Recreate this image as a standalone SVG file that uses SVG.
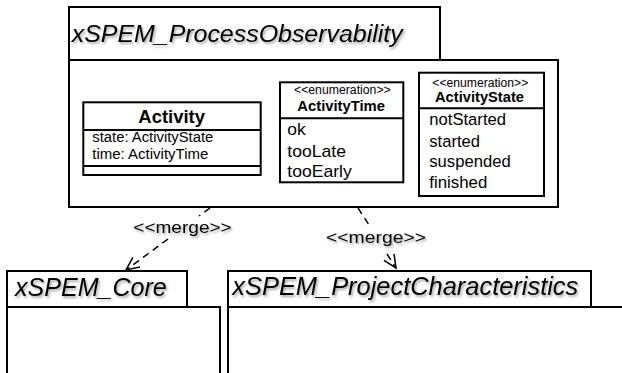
<svg xmlns="http://www.w3.org/2000/svg" width="622" height="373" viewBox="0 0 622 373">
<style>
  .box { fill: #fff; stroke: #000; stroke-width: 2; }
  .div { stroke: #000; stroke-width: 2; fill: none; }
  .pkg { font-family: "Liberation Sans", Arial, sans-serif; font-style: italic; font-size: 24.5px; fill: #000; filter: url(#shadow); }
  .cls { font-family: "Liberation Sans", Arial, sans-serif; font-weight: bold; fill: #000; }
  .txt { font-family: "Liberation Sans", Arial, sans-serif; fill: #000; }
  .lbl { font-family: "Liberation Sans", Arial, sans-serif; font-size: 17px; fill: #000; filter: url(#shadow); }
  .conn { stroke: #000; stroke-width: 1.5; fill: none; stroke-dasharray: 7 5; }
  .end { marker-end: url(#open); }
</style>
<defs>
  <filter id="shadow" x="-10%" y="-30%" width="120%" height="180%">
    <feDropShadow dx="1.5" dy="2" stdDeviation="1" flood-color="#000" flood-opacity="0.35"/>
  </filter>
  <marker id="open" markerUnits="userSpaceOnUse" markerWidth="20" markerHeight="20" refX="0" refY="0" viewBox="-15 -10 20 20" orient="auto">
    <path d="M-13,-6 L0,0 L-13,6" fill="none" stroke="#000" stroke-width="1.5"/>
  </marker>
</defs>
<rect width="622" height="373" fill="#fff"/>

<g id="pkg-process-observability">
  <rect class="box" x="69" y="60" width="489" height="147"/>
  <rect class="box" x="69" y="7" width="371" height="53"/>
  <text class="pkg" x="71.7" y="41.7" textLength="331" lengthAdjust="spacingAndGlyphs">xSPEM_ProcessObservability</text>
</g>

<g id="class-activity">
  <rect class="box" x="83.3" y="102.3" width="177.4" height="72.7"/>
  <line class="div" x1="83.3" y1="130" x2="260.7" y2="130"/>
  <line class="div" x1="83.3" y1="166" x2="260.7" y2="166"/>
  <text class="cls" x="138.3" y="123.3" font-size="18.5" textLength="66.7" lengthAdjust="spacingAndGlyphs">Activity</text>
  <text class="txt" x="92.3" y="141.7" font-size="14" textLength="121" lengthAdjust="spacingAndGlyphs">state: ActivityState</text>
  <text class="txt" x="92.3" y="159" font-size="14" textLength="116" lengthAdjust="spacingAndGlyphs">time: ActivityTime</text>
</g>

<g id="enum-activitytime">
  <rect class="box" x="280" y="82.3" width="123.3" height="100"/>
  <line class="div" x1="280" y1="118.3" x2="403.3" y2="118.3"/>
  <text class="txt" x="294" y="94.3" font-size="12" textLength="96.7" lengthAdjust="spacingAndGlyphs">&lt;&lt;enumeration&gt;&gt;</text>
  <text class="cls" x="297.3" y="111" font-size="14.5" textLength="87.7" lengthAdjust="spacingAndGlyphs">ActivityTime</text>
  <text class="txt" x="287.3" y="135" font-size="17" textLength="18.4" lengthAdjust="spacingAndGlyphs">ok</text>
  <text class="txt" x="287.3" y="156.7" font-size="17" textLength="58.7" lengthAdjust="spacingAndGlyphs">tooLate</text>
  <text class="txt" x="287.3" y="176.7" font-size="17" textLength="64.4" lengthAdjust="spacingAndGlyphs">tooEarly</text>
</g>

<g id="enum-activitystate">
  <rect class="box" x="419" y="72.7" width="125" height="123.3"/>
  <line class="div" x1="419" y1="108.3" x2="544" y2="108.3"/>
  <text class="txt" x="432.3" y="86.7" font-size="12" textLength="96" lengthAdjust="spacingAndGlyphs">&lt;&lt;enumeration&gt;&gt;</text>
  <text class="cls" x="435" y="101.7" font-size="14.5" textLength="89" lengthAdjust="spacingAndGlyphs">ActivityState</text>
  <text class="txt" x="429.3" y="125" font-size="16.7" textLength="76.7" lengthAdjust="spacingAndGlyphs">notStarted</text>
  <text class="txt" x="429.3" y="146.5" font-size="16.7" textLength="50.7" lengthAdjust="spacingAndGlyphs">started</text>
  <text class="txt" x="429.3" y="167" font-size="16.7" textLength="81.4" lengthAdjust="spacingAndGlyphs">suspended</text>
  <text class="txt" x="429.3" y="188.3" font-size="16.7" textLength="58" lengthAdjust="spacingAndGlyphs">finished</text>
</g>

<g id="pkg-core">
  <rect class="box" x="7" y="307" width="213" height="80"/>
  <rect class="box" x="7" y="271" width="180" height="36"/>
  <text class="pkg" x="15" y="296" style="font-size:25px" textLength="151.7" lengthAdjust="spacingAndGlyphs">xSPEM_Core</text>
</g>

<g id="pkg-project-characteristics">
  <rect class="box" x="228" y="307" width="410" height="80"/>
  <rect class="box" x="228" y="271" width="363" height="36"/>
  <text class="pkg" x="232.3" y="295" style="font-size:25px" textLength="346" lengthAdjust="spacingAndGlyphs">xSPEM_ProjectCharacteristics</text>
</g>

<g id="connectors">
  <path class="conn" d="M210,208 L199,216"/>
  <path class="conn end" d="M168,239 L126,270"/>
  <path class="conn" d="M358,208 L369,225"/>
  <path class="conn end" d="M387,254 L396,268"/>
  <text class="lbl" x="133.3" y="233.3" textLength="98.4" lengthAdjust="spacingAndGlyphs">&lt;&lt;merge&gt;&gt;</text>
  <text class="lbl" x="326" y="243.3" textLength="100" lengthAdjust="spacingAndGlyphs">&lt;&lt;merge&gt;&gt;</text>
</g>
</svg>
